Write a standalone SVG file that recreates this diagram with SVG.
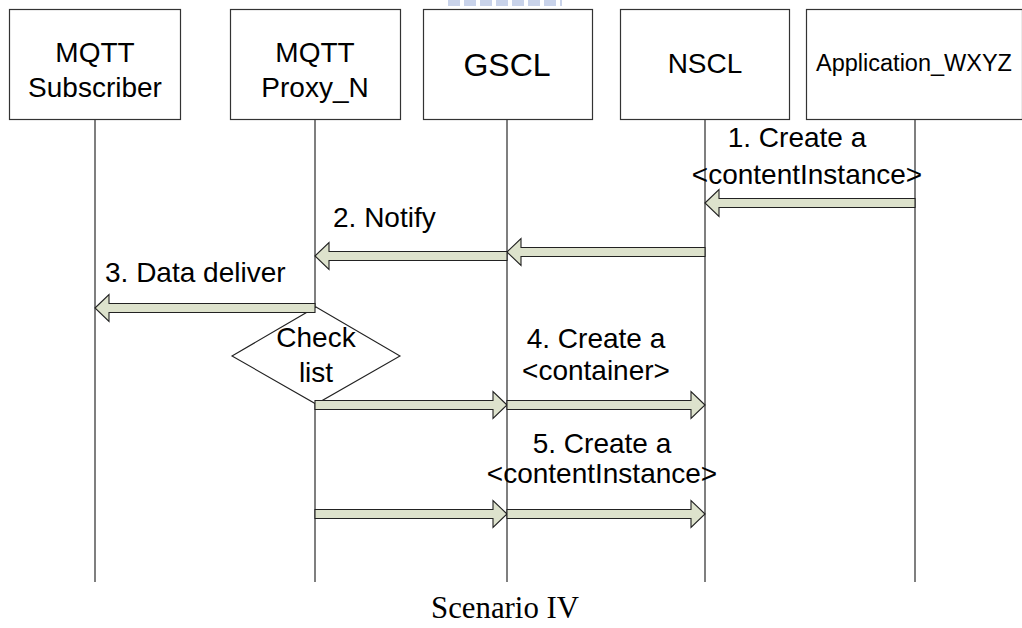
<svg xmlns="http://www.w3.org/2000/svg" width="1022" height="628" viewBox="0 0 1022 628">
<style>
.box{fill:#fff;stroke:#333;stroke-width:1.2}
.life{stroke:#555;stroke-width:1.5;fill:none}
.arr{fill:#dde2cc;stroke:#222;stroke-width:1.1;stroke-linejoin:miter}
.t{font-family:"Liberation Sans",Arial,sans-serif;font-size:28px;fill:#000}
.m{text-anchor:middle}
</style>
<rect width="1022" height="628" fill="#fff"/>
<line x1="448" y1="3" x2="562" y2="3" stroke="#c9d3ea" stroke-width="6" stroke-dasharray="12 4"/>
<g id="lifelines">
<line class="life" x1="95" y1="119" x2="95" y2="582"/>
<line class="life" x1="315" y1="119" x2="315" y2="582"/>
<line class="life" x1="507" y1="119" x2="507" y2="582"/>
<line class="life" x1="705" y1="119" x2="705" y2="582"/>
<line class="life" x1="915" y1="119" x2="915" y2="582"/>
</g>
<g id="node-subscriber">
<rect class="box" x="9.5" y="9.5" width="171" height="110"/>
<text class="t m" x="95" y="62">MQTT</text>
<text class="t m" x="95" y="97">Subscriber</text>
</g>
<g id="node-proxy">
<rect class="box" x="230.5" y="9.5" width="170" height="110"/>
<text class="t m" x="315" y="62">MQTT</text>
<text class="t m" x="315" y="97">Proxy_N</text>
</g>
<g id="node-gscl">
<rect class="box" x="423.5" y="9.5" width="169" height="110"/>
<text class="t m" x="507" y="76" style="font-size:32px">GSCL</text>
</g>
<g id="node-nscl">
<rect class="box" x="620.5" y="9.5" width="169" height="110"/>
<text class="t m" x="705" y="73">NSCL</text>
</g>
<g id="node-app">
<rect class="box" x="806.5" y="9.5" width="216" height="110"/>
<text class="t m" x="914" y="71" style="font-size:23.5px">Application_WXYZ</text>
</g>
<g id="node-checklist">
<polygon points="316,307 400,356 316,404 232,356" fill="#fff" stroke="#222" stroke-width="1.1"/>
<text class="t m" x="316" y="347">Check</text>
<text class="t m" x="316" y="382">list</text>
</g>
<g id="connectors">
<path class="arr" d="M705,203 L719,189.5 L719,198.5 L915,198.5 L915,207.5 L719,207.5 L719,216.5 Z"/>
<path class="arr" d="M507,252 L521,238.5 L521,247.5 L705,247.5 L705,256.5 L521,256.5 L521,265.5 Z"/>
<path class="arr" d="M315,256 L329,242.5 L329,251.5 L507,251.5 L507,260.5 L329,260.5 L329,269.5 Z"/>
<path class="arr" d="M95,308 L109,294.5 L109,303.5 L315,303.5 L315,312.5 L109,312.5 L109,321.5 Z"/>
<path class="arr" d="M507,405 L493,391.5 L493,400.5 L315,400.5 L315,409.5 L493,409.5 L493,418.5 Z"/>
<path class="arr" d="M705,405 L691,391.5 L691,400.5 L507,400.5 L507,409.5 L691,409.5 L691,418.5 Z"/>
<path class="arr" d="M507,514 L493,500.5 L493,509.5 L315,509.5 L315,518.5 L493,518.5 L493,527.5 Z"/>
<path class="arr" d="M705,514 L691,500.5 L691,509.5 L507,509.5 L507,518.5 L691,518.5 L691,527.5 Z"/>
</g>
<g id="labels">
<text class="t m" x="797" y="147">1. Create a</text>
<text class="t m" x="807" y="184">&lt;contentInstance&gt;</text>
<text class="t" x="333" y="227">2. Notify</text>
<text class="t" x="105" y="282">3. Data deliver</text>
<text class="t m" x="596" y="348">4. Create a</text>
<text class="t m" x="596" y="380">&lt;container&gt;</text>
<text class="t m" x="602" y="453">5. Create a</text>
<text class="t m" x="602" y="483">&lt;contentInstance&gt;</text>
</g>
<text x="505" y="618" text-anchor="middle" font-family="'Liberation Serif','Times New Roman',serif" font-size="32" textLength="148" lengthAdjust="spacingAndGlyphs">Scenario IV</text>
</svg>
